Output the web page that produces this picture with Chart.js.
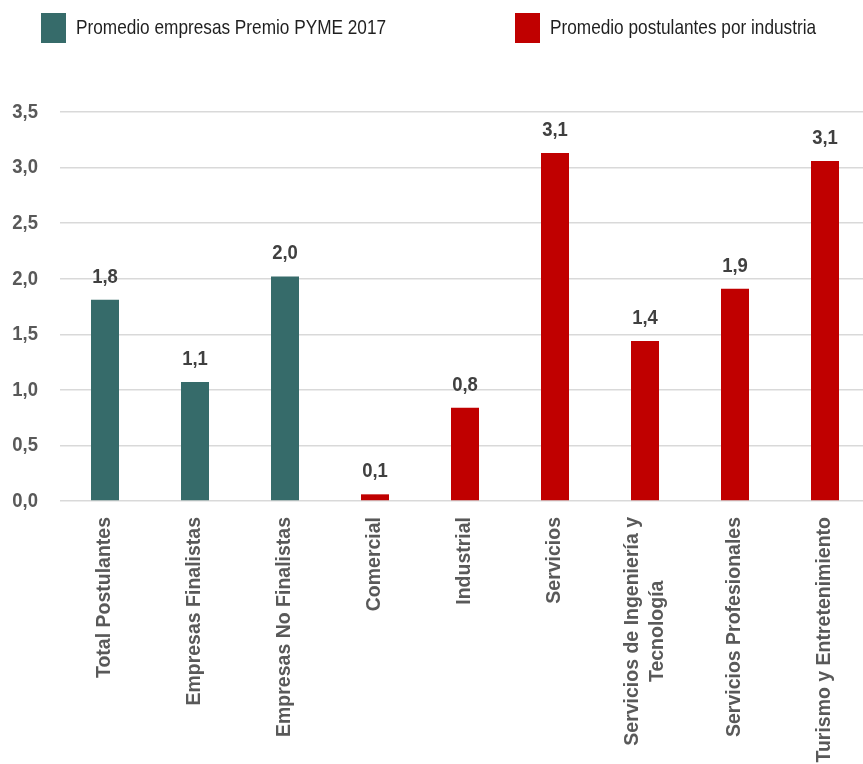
<!DOCTYPE html>
<html>
<head>
<meta charset="utf-8">
<script src="https://cdn.jsdelivr.net/npm/chart.js@4.4.1/dist/chart.umd.min.js"></script>
<style>
  html, body { margin: 0; padding: 0; background: #fff; overflow: hidden; }
  #wrap { width: 863px; height: 764px; overflow: hidden; }
</style>
</head>
<body>
<div id="wrap"><canvas id="chart" width="871" height="764"></canvas></div>
<script>
  const categories = [
    "Total Postulantes",
    "Empresas Finalistas",
    "Empresas No Finalistas",
    "Comercial",
    "Industrial",
    "Servicios",
    ["Servicios de Ingeniería y", "Tecnología"],
    "Servicios Profesionales",
    "Turismo y Entretenimiento",
  ];
  const seriesNames = ["Promedio empresas Premio PYME 2017", "Promedio postulantes por industria"];
  const empresasValues = [1.81, 1.07, 2.02, null, null, null, null, null, null];
  const industriaValues = [null, null, null, 0.06, 0.84, 3.13, 1.44, 1.91, 3.06];
  const yTicks = [0, 0.5, 1, 1.5, 2, 2.5, 3, 3.5];
  const colors = ["#366b6a", "#c00000"];

  const SANS = "'Liberation Sans', Arial, sans-serif";
  const fmt = (v) => v.toFixed(1).replace(".", ",");

  // no narrow face installed: squeeze the regular one horizontally
  function narrowText(ctx, text, x, y, align, squeeze) {
    ctx.save();
    ctx.translate(x, y);
    ctx.scale(squeeze, 1);
    ctx.textAlign = align;
    ctx.fillText(text, 0, 0);
    ctx.restore();
  }

  // legend row at the top of the canvas
  const legendPlugin = {
    id: "topLegend",
    afterDraw(chart) {
      const ctx = chart.ctx;
      const boxX = [41, 515];
      ctx.save();
      ctx.font = "21px " + SANS;
      ctx.textBaseline = "middle";
      chart.data.datasets.forEach((ds, i) => {
        ctx.fillStyle = ds.backgroundColor;
        ctx.fillRect(boxX[i], 13, 25, 30);
        ctx.fillStyle = "#1f1f1f";
        narrowText(ctx, ds.label, boxX[i] + 35, 28, "left", 0.82);
      });
      ctx.restore();
    },
  };

  // y tick labels, condensed bold
  const yLabelPlugin = {
    id: "yLabels",
    afterDraw(chart) {
      const ctx = chart.ctx;
      const ys = chart.scales.y;
      ctx.save();
      ctx.font = "bold 21px " + SANS;
      ctx.fillStyle = "#595959";
      ctx.textBaseline = "middle";
      yTicks.forEach((v) => narrowText(ctx, fmt(v), 38, ys.getPixelForValue(v), "right", 0.88));
      ctx.restore();
    },
  };

  // value labels above the bars
  const valuePlugin = {
    id: "valueLabels",
    afterDatasetsDraw(chart) {
      const ctx = chart.ctx;
      ctx.save();
      ctx.font = "bold 21px " + SANS;
      ctx.fillStyle = "#404040";
      ctx.textBaseline = "alphabetic";
      chart.data.datasets.forEach((ds, di) => {
        chart.getDatasetMeta(di).data.forEach((bar, i) => {
          const v = ds.data[i];
          if (v == null) return;
          narrowText(ctx, fmt(v), bar.x, bar.y - 17, "center", 0.88);
        });
      });
      ctx.restore();
    },
  };

  // rotated category labels, wrapped lines centred on the first one
  const xLabelPlugin = {
    id: "xLabels",
    afterDraw(chart) {
      const ctx = chart.ctx;
      const xs = chart.scales.x;
      const top = chart.chartArea.bottom + 16;
      ctx.save();
      ctx.font = "bold 19.5px " + SANS;
      ctx.fillStyle = "#595959";
      ctx.textBaseline = "middle";
      categories.forEach((label, i) => {
        const lines = Array.isArray(label) ? label : [label];
        const x = xs.getPixelForValue(i);
        const w0 = ctx.measureText(lines[0]).width;
        ctx.save();
        ctx.translate(x, top);
        ctx.rotate(-Math.PI / 2);
        lines.forEach((line, li) => {
          const off = (li - (lines.length - 1) / 2) * 25;
          if (li === 0) {
            ctx.textAlign = "right";
            ctx.fillText(line, 0, off);
          } else {
            ctx.textAlign = "center";
            ctx.fillText(line, -w0 / 2, off);
          }
        });
        ctx.restore();
      });
      ctx.restore();
    },
  };

  new Chart(document.getElementById("chart"), {
    type: "bar",
    data: {
      labels: categories,
      datasets: [
        { label: seriesNames[0], data: empresasValues, backgroundColor: colors[0], skipNull: true },
        { label: seriesNames[1], data: industriaValues, backgroundColor: colors[1], skipNull: true },
      ],
    },
    options: {
      responsive: false,
      animation: false,
      layout: { padding: { top: 112, right: 1, left: 0, bottom: 0 } },
      datasets: {
        bar: { categoryPercentage: 1, barPercentage: 28 / 90 },
      },
      plugins: {
        legend: { display: false },
        tooltip: { enabled: false },
      },
      scales: {
        x: {
          grid: { display: false },
          border: { display: false },
          ticks: { display: false },
          afterFit(scale) { scale.height = 263; },
        },
        y: {
          min: 0,
          max: 3.5,
          afterBuildTicks(scale) { scale.ticks = yTicks.map((v) => ({ value: v })); },
          afterFit(scale) { scale.width = 60; },
          grid: { color: "#d9d9d9", lineWidth: 1.5, drawTicks: false },
          border: { display: false },
          ticks: { display: false },
        },
      },
    },
    plugins: [legendPlugin, yLabelPlugin, valuePlugin, xLabelPlugin],
  });
</script>
</body>
</html>
